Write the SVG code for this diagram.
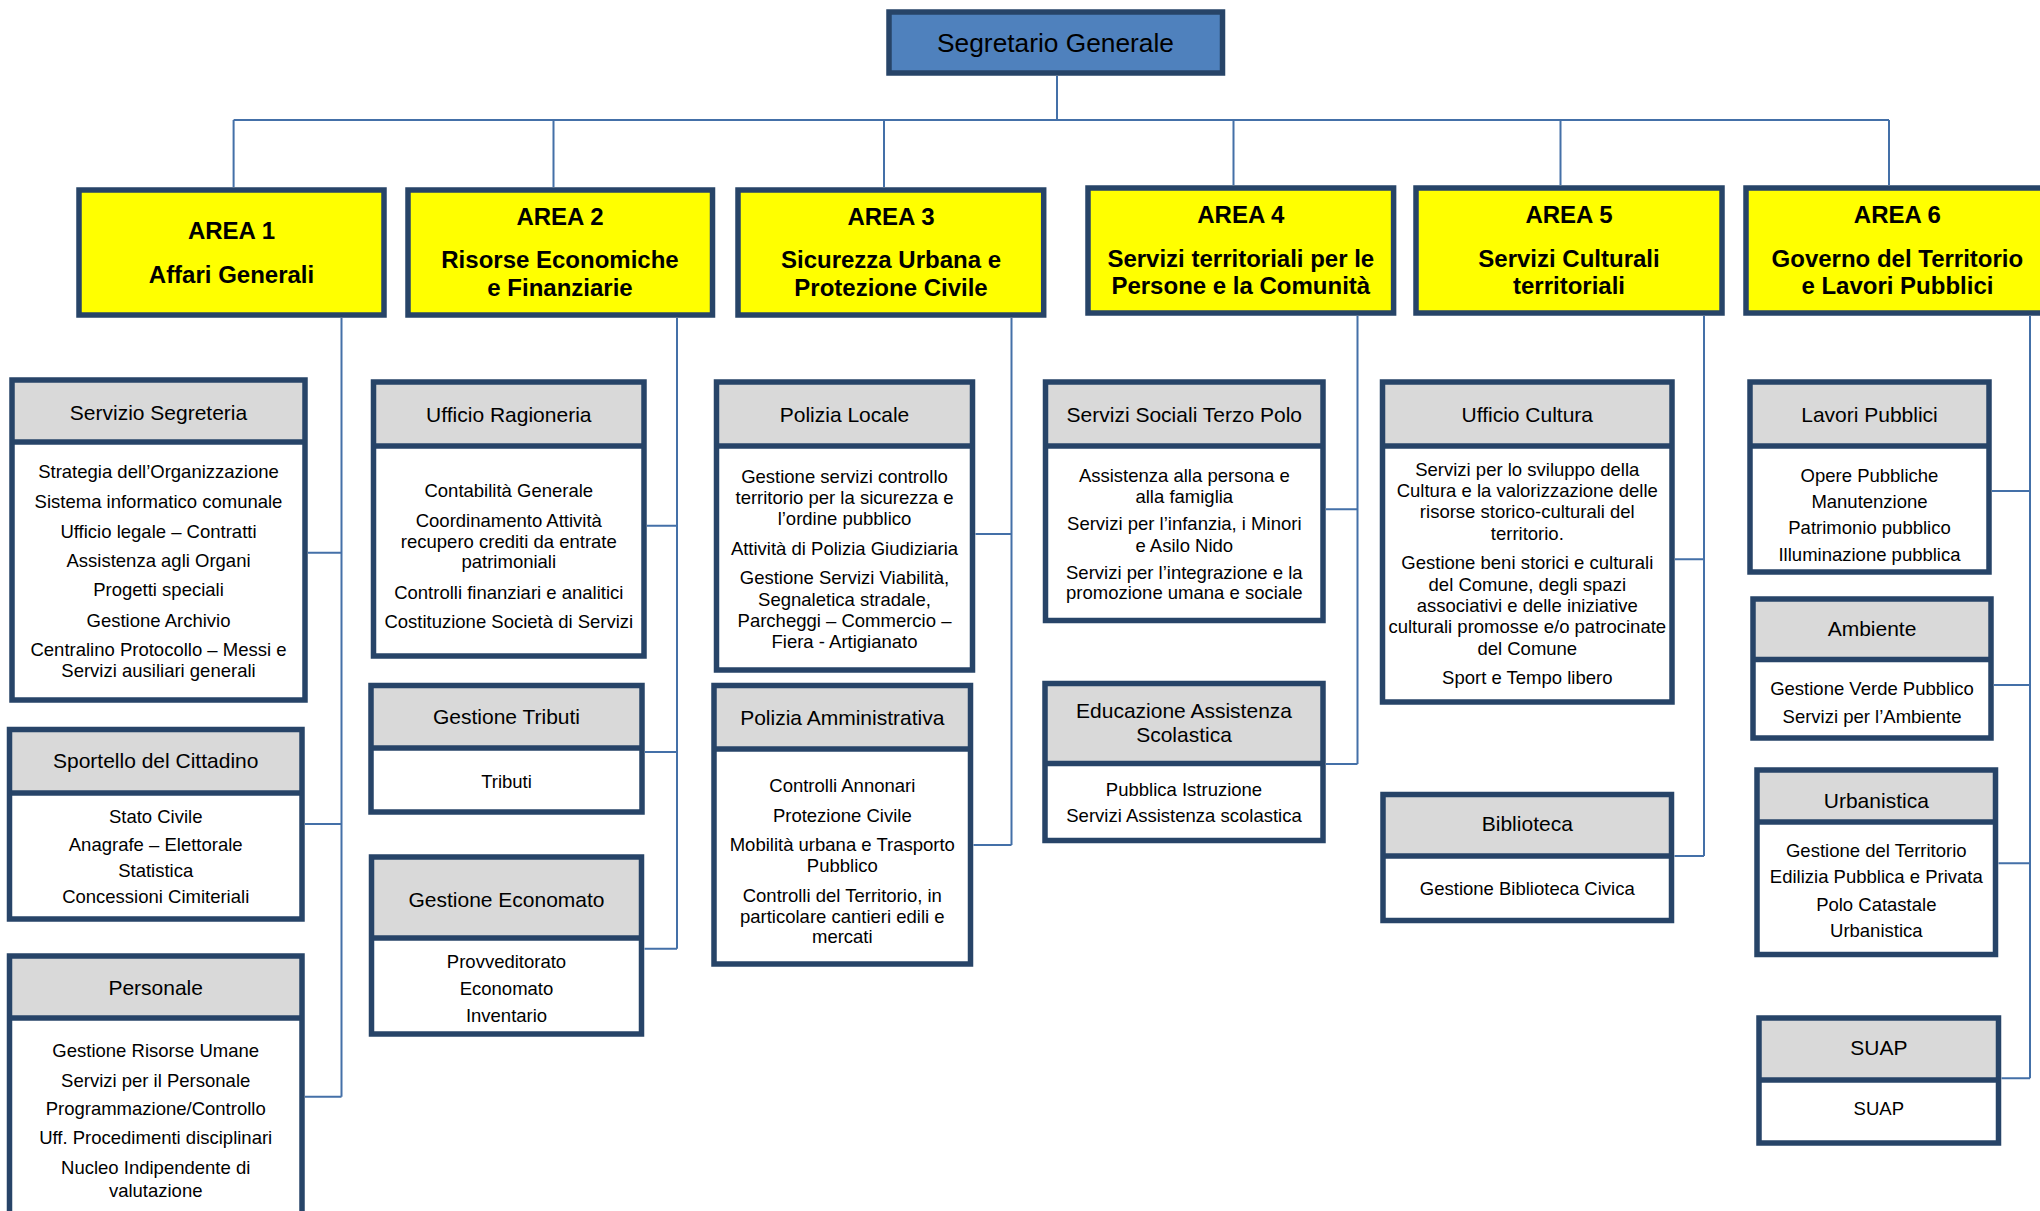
<svg xmlns="http://www.w3.org/2000/svg" width="2040" height="1211" viewBox="0 0 2040 1211">
<style>
.frame{fill:none;stroke:#274468;stroke-width:5.5}
.sep{stroke:#274468;stroke-width:5.5}
.hdr{fill:#D9D9D9}
.bdy{fill:#FFFFFF}
.area{fill:#FFFF00;stroke:#274468;stroke-width:5.5}
.top{fill:#4F81BD;stroke:#274468;stroke-width:5.5}
text{font-family:"Liberation Sans",Arial,sans-serif;text-anchor:middle;fill:#000}
.h{font-size:21px}
.b{font-size:18.5px}
.a{font-size:24px;font-weight:bold}
.s{font-size:26.3px}
.conn{fill:none;stroke:#4470A8;stroke-width:2}
</style>
<rect width="2040" height="1211" fill="#FFFFFF"/>
<g id="connectors" class="conn">
<path d="M1057,76 V120 M233.6,120 H1889 M233.6,120 V187 M553.5,120 V187 M884,120 V187 M1233.5,120 V185 M1560.5,120 V185 M1889,120 V185"/>
<path d="M341.5,318 V1096.7 M308,552.7 H341.5 M305,824 H341.5 M305,1096.7 H341.5"/>
<path d="M677,318 V948.7 M647,525.7 H677 M645,752 H677 M644.5,948.7 H677"/>
<path d="M1011.5,318 V845 M975.5,534 H1011.5 M973.5,845 H1011.5"/>
<path d="M1357.5,316 V764 M1326,509.3 H1357.5 M1326,764 H1357.5"/>
<path d="M1704,316 V856 M1675,559.3 H1704 M1674.5,856 H1704"/>
<path d="M2030,316 V1078.3 M1992,491 H2030 M1994,685 H2030 M1998.5,863.3 H2030 M2001.5,1078.3 H2030"/>
</g>
<g id="segretario">
<rect class="top" x="889" y="12" width="333.5" height="61"/>
<text class="s" x="1055.5" y="52">Segretario Generale</text>
</g>
<g id="area1">
<rect class="area" x="79" y="190" width="305" height="125"/>
<text class="a" x="231.5" y="239.3">AREA 1</text>
<text class="a" x="231.5" y="282.7">Affari Generali</text>
</g>
<g id="area2">
<rect class="area" x="408" y="190" width="304.5" height="125"/>
<text class="a" x="560" y="225.3">AREA 2</text>
<text class="a" x="560" y="268.3">Risorse Economiche</text>
<text class="a" x="560" y="296">e Finanziarie</text>
</g>
<g id="area3">
<rect class="area" x="738" y="190" width="305.7" height="125"/>
<text class="a" x="891" y="225.3">AREA 3</text>
<text class="a" x="891" y="268.3">Sicurezza Urbana e</text>
<text class="a" x="891" y="296">Protezione Civile</text>
</g>
<g id="area4">
<rect class="area" x="1088" y="188" width="305.6" height="125"/>
<text class="a" x="1240.8" y="223.3">AREA 4</text>
<text class="a" x="1240.8" y="266.7">Servizi territoriali per le</text>
<text class="a" x="1240.8" y="294.3">Persone e la Comunità</text>
</g>
<g id="area5">
<rect class="area" x="1416" y="188" width="306" height="125"/>
<text class="a" x="1569" y="223.3">AREA 5</text>
<text class="a" x="1569" y="266.7">Servizi Culturali</text>
<text class="a" x="1569" y="294.3">territoriali</text>
</g>
<g id="area6">
<rect class="area" x="1746" y="188" width="302" height="125"/>
<text class="a" x="1897.4" y="223.3">AREA 6</text>
<text class="a" x="1897.4" y="266.7">Governo del Territorio</text>
<text class="a" x="1897.4" y="294.3">e Lavori Pubblici</text>
</g>

<g id="servizio-segreteria">
<rect class="hdr" x="12" y="380" width="293" height="62"/>
<rect class="bdy" x="12" y="442" width="293" height="258"/>
<rect class="frame" x="12" y="380" width="293" height="320"/>
<line class="sep" x1="12" y1="442" x2="305" y2="442"/>
<text class="h" x="158.5" y="420">Servizio Segreteria</text>
<text class="b" x="158.5" y="478.3">Strategia dell’Organizzazione</text>
<text class="b" x="158.5" y="508.3">Sistema informatico comunale</text>
<text class="b" x="158.5" y="538.3">Ufficio legale – Contratti</text>
<text class="b" x="158.5" y="566.7">Assistenza agli Organi</text>
<text class="b" x="158.5" y="596">Progetti speciali</text>
<text class="b" x="158.5" y="626.7">Gestione Archivio</text>
<text class="b" x="158.5" y="655.7">Centralino Protocollo – Messi e</text>
<text class="b" x="158.5" y="677.3">Servizi ausiliari generali</text>
</g>
<g id="sportello-cittadino">
<rect class="hdr" x="9.5" y="729.5" width="292.5" height="63.5"/>
<rect class="bdy" x="9.5" y="793" width="292.5" height="126"/>
<rect class="frame" x="9.5" y="729.5" width="292.5" height="189.5"/>
<line class="sep" x1="9.5" y1="793" x2="302" y2="793"/>
<text class="h" x="155.7" y="768.3">Sportello del Cittadino</text>
<text class="b" x="155.7" y="823.3">Stato Civile</text>
<text class="b" x="155.7" y="850.7">Anagrafe – Elettorale</text>
<text class="b" x="155.7" y="876.7">Statistica</text>
<text class="b" x="155.7" y="903.3">Concessioni Cimiteriali</text>
</g>
<g id="personale">
<rect class="hdr" x="9.5" y="956" width="292.5" height="62"/>
<rect class="bdy" x="9.5" y="1018" width="292.5" height="208"/>
<rect class="frame" x="9.5" y="956" width="292.5" height="270"/>
<line class="sep" x1="9.5" y1="1018" x2="302" y2="1018"/>
<text class="h" x="155.7" y="995">Personale</text>
<text class="b" x="155.7" y="1056.7">Gestione Risorse Umane</text>
<text class="b" x="155.7" y="1086.7">Servizi per il Personale</text>
<text class="b" x="155.7" y="1115">Programmazione/Controllo</text>
<text class="b" x="155.7" y="1144.3">Uff. Procedimenti disciplinari</text>
<text class="b" x="155.7" y="1174.3">Nucleo Indipendente di</text>
<text class="b" x="155.7" y="1196.7">valutazione</text>
</g>

<g id="ufficio-ragioneria">
<rect class="hdr" x="373.5" y="382" width="270.5" height="64"/>
<rect class="bdy" x="373.5" y="446" width="270.5" height="210"/>
<rect class="frame" x="373.5" y="382" width="270.5" height="274"/>
<line class="sep" x1="373.5" y1="446" x2="644" y2="446"/>
<text class="h" x="508.8" y="421.7">Ufficio Ragioneria</text>
<text class="b" x="508.8" y="497.3">Contabilità Generale</text>
<text class="b" x="508.8" y="526.7">Coordinamento Attività</text>
<text class="b" x="508.8" y="548.3">recupero crediti da entrate</text>
<text class="b" x="508.8" y="568.3">patrimoniali</text>
<text class="b" x="508.8" y="599.3">Controlli finanziari e analitici</text>
<text class="b" x="508.8" y="628.3">Costituzione Società di Servizi</text>
</g>
<g id="gestione-tributi">
<rect class="hdr" x="371" y="685.5" width="271" height="62.5"/>
<rect class="bdy" x="371" y="748" width="271" height="64"/>
<rect class="frame" x="371" y="685.5" width="271" height="126.5"/>
<line class="sep" x1="371" y1="748" x2="642" y2="748"/>
<text class="h" x="506.5" y="724.3">Gestione Tributi</text>
<text class="b" x="506.5" y="787.7">Tributi</text>
</g>
<g id="gestione-economato">
<rect class="hdr" x="371.5" y="857" width="270" height="81"/>
<rect class="bdy" x="371.5" y="938" width="270" height="96"/>
<rect class="frame" x="371.5" y="857" width="270" height="177"/>
<line class="sep" x1="371.5" y1="938" x2="641.5" y2="938"/>
<text class="h" x="506.5" y="906.7">Gestione Economato</text>
<text class="b" x="506.5" y="967.7">Provveditorato</text>
<text class="b" x="506.5" y="995">Economato</text>
<text class="b" x="506.5" y="1021.7">Inventario</text>
</g>

<g id="polizia-locale">
<rect class="hdr" x="716.5" y="382" width="256" height="64"/>
<rect class="bdy" x="716.5" y="446" width="256" height="224"/>
<rect class="frame" x="716.5" y="382" width="256" height="288"/>
<line class="sep" x1="716.5" y1="446" x2="972.5" y2="446"/>
<text class="h" x="844.5" y="421.7">Polizia Locale</text>
<text class="b" x="844.5" y="483.3">Gestione servizi controllo</text>
<text class="b" x="844.5" y="504">territorio per la sicurezza e</text>
<text class="b" x="844.5" y="524.7">l’ordine pubblico</text>
<text class="b" x="844.5" y="555">Attività di Polizia Giudiziaria</text>
<text class="b" x="844.5" y="584">Gestione Servizi Viabilità,</text>
<text class="b" x="844.5" y="605.7">Segnaletica stradale,</text>
<text class="b" x="844.5" y="626.7">Parcheggi – Commercio –</text>
<text class="b" x="844.5" y="648.3">Fiera - Artigianato</text>
</g>
<g id="polizia-amministrativa">
<rect class="hdr" x="714" y="685.5" width="256.5" height="63.5"/>
<rect class="bdy" x="714" y="749" width="256.5" height="215"/>
<rect class="frame" x="714" y="685.5" width="256.5" height="278.5"/>
<line class="sep" x1="714" y1="749" x2="970.5" y2="749"/>
<text class="h" x="842.3" y="725">Polizia Amministrativa</text>
<text class="b" x="842.3" y="792.3">Controlli Annonari</text>
<text class="b" x="842.3" y="821.7">Protezione Civile</text>
<text class="b" x="842.3" y="850.7">Mobilità urbana e Trasporto</text>
<text class="b" x="842.3" y="871.7">Pubblico</text>
<text class="b" x="842.3" y="901.7">Controlli del Territorio, in</text>
<text class="b" x="842.3" y="922.7">particolare cantieri edili e</text>
<text class="b" x="842.3" y="943.3">mercati</text>
</g>

<g id="servizi-sociali">
<rect class="hdr" x="1045.5" y="382" width="277.5" height="64"/>
<rect class="bdy" x="1045.5" y="446" width="277.5" height="174.5"/>
<rect class="frame" x="1045.5" y="382" width="277.5" height="238.5"/>
<line class="sep" x1="1045.5" y1="446" x2="1323" y2="446"/>
<text class="h" x="1184.3" y="421.7">Servizi Sociali Terzo Polo</text>
<text class="b" x="1184.3" y="482.3">Assistenza alla persona e</text>
<text class="b" x="1184.3" y="502.7">alla famiglia</text>
<text class="b" x="1184.3" y="530">Servizi per l’infanzia, i Minori</text>
<text class="b" x="1184.3" y="551.7">e Asilo Nido</text>
<text class="b" x="1184.3" y="579">Servizi per l’integrazione e la</text>
<text class="b" x="1184.3" y="599.3">promozione umana e sociale</text>
</g>
<g id="educazione-assistenza">
<rect class="hdr" x="1045" y="683.5" width="278" height="80"/>
<rect class="bdy" x="1045" y="763.5" width="278" height="77"/>
<rect class="frame" x="1045" y="683.5" width="278" height="157"/>
<line class="sep" x1="1045" y1="763.5" x2="1323" y2="763.5"/>
<text class="h" x="1184" y="717.7">Educazione Assistenza</text>
<text class="h" x="1184" y="742.3">Scolastica</text>
<text class="b" x="1184" y="795.5">Pubblica Istruzione</text>
<text class="b" x="1184" y="822.3">Servizi Assistenza scolastica</text>
</g>

<g id="ufficio-cultura">
<rect class="hdr" x="1382.5" y="382" width="289.5" height="64"/>
<rect class="bdy" x="1382.5" y="446" width="289.5" height="256"/>
<rect class="frame" x="1382.5" y="382" width="289.5" height="320"/>
<line class="sep" x1="1382.5" y1="446" x2="1672" y2="446"/>
<text class="h" x="1527.3" y="421.7">Ufficio Cultura</text>
<text class="b" x="1527.3" y="475.7">Servizi per lo sviluppo della</text>
<text class="b" x="1527.3" y="496.7">Cultura e la valorizzazione delle</text>
<text class="b" x="1527.3" y="518.3">risorse storico-culturali del</text>
<text class="b" x="1527.3" y="540">territorio.</text>
<text class="b" x="1527.3" y="569.3">Gestione beni storici e culturali</text>
<text class="b" x="1527.3" y="590.7">del Comune, degli spazi</text>
<text class="b" x="1527.3" y="612.3">associativi e delle iniziative</text>
<text class="b" x="1527.3" y="633.3">culturali promosse e/o patrocinate</text>
<text class="b" x="1527.3" y="655">del Comune</text>
<text class="b" x="1527.3" y="684.3">Sport e Tempo libero</text>
</g>
<g id="biblioteca">
<rect class="hdr" x="1383" y="794.5" width="288.5" height="61.5"/>
<rect class="bdy" x="1383" y="856" width="288.5" height="64.5"/>
<rect class="frame" x="1383" y="794.5" width="288.5" height="126"/>
<line class="sep" x1="1383" y1="856" x2="1671.5" y2="856"/>
<text class="h" x="1527.3" y="830.7">Biblioteca</text>
<text class="b" x="1527.3" y="895">Gestione Biblioteca Civica</text>
</g>

<g id="lavori-pubblici">
<rect class="hdr" x="1750" y="382" width="239" height="64"/>
<rect class="bdy" x="1750" y="446" width="239" height="126"/>
<rect class="frame" x="1750" y="382" width="239" height="190"/>
<line class="sep" x1="1750" y1="446" x2="1989" y2="446"/>
<text class="h" x="1869.5" y="421.7">Lavori Pubblici</text>
<text class="b" x="1869.5" y="481.7">Opere Pubbliche</text>
<text class="b" x="1869.5" y="508.3">Manutenzione</text>
<text class="b" x="1869.5" y="534.3">Patrimonio pubblico</text>
<text class="b" x="1869.5" y="561">Illuminazione pubblica</text>
</g>
<g id="ambiente">
<rect class="hdr" x="1753" y="599" width="238" height="60.5"/>
<rect class="bdy" x="1753" y="659.5" width="238" height="78.5"/>
<rect class="frame" x="1753" y="599" width="238" height="139"/>
<line class="sep" x1="1753" y1="659.5" x2="1991" y2="659.5"/>
<text class="h" x="1872" y="636">Ambiente</text>
<text class="b" x="1872" y="695">Gestione Verde Pubblico</text>
<text class="b" x="1872" y="722.7">Servizi per l’Ambiente</text>
</g>
<g id="urbanistica">
<rect class="hdr" x="1757" y="770" width="238.5" height="52"/>
<rect class="bdy" x="1757" y="822" width="238.5" height="132.5"/>
<rect class="frame" x="1757" y="770" width="238.5" height="184.5"/>
<line class="sep" x1="1757" y1="822" x2="1995.5" y2="822"/>
<text class="h" x="1876.3" y="807.5">Urbanistica</text>
<text class="b" x="1876.3" y="856.7">Gestione del Territorio</text>
<text class="b" x="1876.3" y="883.3">Edilizia Pubblica e Privata</text>
<text class="b" x="1876.3" y="910.7">Polo Catastale</text>
<text class="b" x="1876.3" y="937.3">Urbanistica</text>
</g>
<g id="suap">
<rect class="hdr" x="1759" y="1018" width="239.5" height="62"/>
<rect class="bdy" x="1759" y="1080" width="239.5" height="63"/>
<rect class="frame" x="1759" y="1018" width="239.5" height="125"/>
<line class="sep" x1="1759" y1="1080" x2="1998.5" y2="1080"/>
<text class="h" x="1878.8" y="1055">SUAP</text>
<text class="b" x="1878.8" y="1115">SUAP</text>
</g>
</svg>
